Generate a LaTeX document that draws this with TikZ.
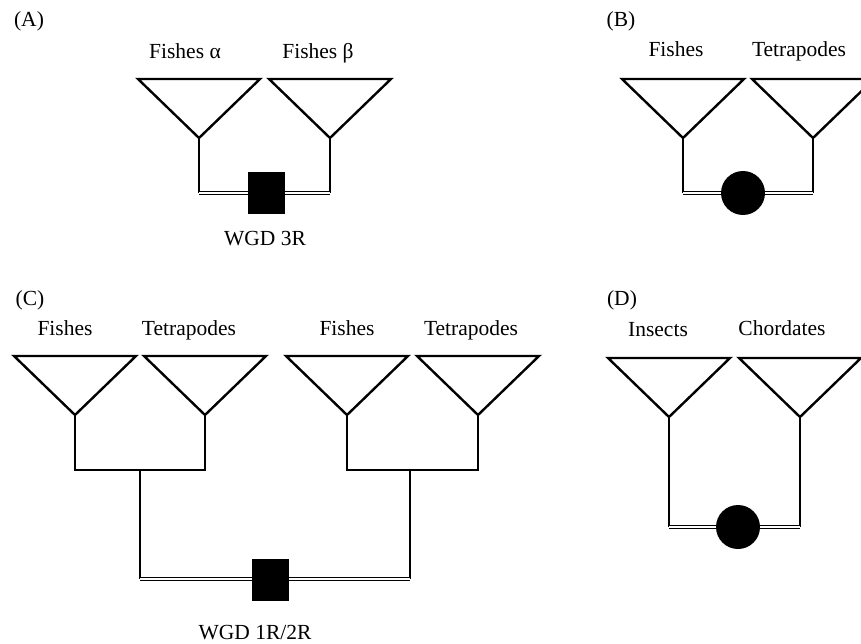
\documentclass[tikz,border=0pt]{standalone}
\usepackage{fontspec}
\setmainfont{Liberation Serif}
\begin{document}
\begin{tikzpicture}[x=1pt,y=-1pt,
  tri/.style={line width=2.4pt,line join=miter},
  stem/.style={line width=2.1pt},
  dbl/.style={line width=1.5pt,double,double distance=1.6pt},
  lbl/.style={anchor=base,inner sep=0pt,font=\fontsize{21.5}{25}\selectfont},
  wgdsq/.style={fill=black,draw=none,minimum width=37pt,minimum height=42pt,inner sep=0pt},
  wgdci/.style={fill=black,draw=none,circle,minimum size=44pt,inner sep=0pt},
  funnel/.pic={\draw[tri] (-61,0) -- (61,0) -- (0,59) -- cycle; \coordinate (-apex) at (0,59);}
]
\useasboundingbox (0,0) rectangle (861,644);

% ---------- Panel A ----------
\node[lbl] (labA) at (29,27) {(A)};
\pic (tA1) at (199,79) {funnel};
\pic (tA2) at (330,79) {funnel};
\node[lbl] (nA1) at (185,59) {Fishes α};
\node[lbl] (nA2) at (318,59) {Fishes β};
\coordinate (bA1) at (199,193);
\coordinate (bA2) at (330,193);
\draw[stem] (tA1-apex) -- (bA1);
\draw[stem] (tA2-apex) -- (bA2);
\draw[dbl] (bA1) -- (bA2);
\node[wgdsq] (sqA) at (266,193) {};
\node[lbl] (wA) at (265,245) {WGD 3R};

% ---------- Panel B ----------
\node[lbl] (labB) at (621,27) {(B)};
\pic (tB1) at (683,79) {funnel};
\pic (tB2) at (813,79) {funnel};
\node[lbl] (nB1) at (676,57) {Fishes};
\node[lbl] (nB2) at (799,57) {Tetrapodes};
\coordinate (bB1) at (683,193);
\coordinate (bB2) at (813,193);
\draw[stem] (tB1-apex) -- (bB1);
\draw[stem] (tB2-apex) -- (bB2);
\draw[dbl] (bB1) -- (bB2);
\node[wgdci] (ciB) at (743,193) {};

% ---------- Panel C ----------
\node[lbl] (labC) at (30,305) {(C)};
\pic (tC1) at (75,356) {funnel};
\pic (tC2) at (205,356) {funnel};
\pic (tC3) at (347,356) {funnel};
\pic (tC4) at (478,356) {funnel};
\node[lbl] (nC1) at (65,335) {Fishes};
\node[lbl] (nC2) at (189,335) {Tetrapodes};
\node[lbl] (nC3) at (347,335) {Fishes};
\node[lbl] (nC4) at (471,335) {Tetrapodes};
\coordinate (jC1) at (140,470);
\coordinate (jC2) at (410,470);
\draw[stem] (tC1-apex) |- (jC1) -| (tC2-apex);
\draw[stem] (tC3-apex) |- (jC2) -| (tC4-apex);
\coordinate (bC1) at (140,579);
\coordinate (bC2) at (410,579);
\draw[stem] (jC1) -- (bC1);
\draw[stem] (jC2) -- (bC2);
\draw[dbl] (bC1) -- (bC2);
\node[wgdsq] (sqC) at (270,580) {};
\node[lbl] (wC) at (255,639) {WGD 1R/2R};

% ---------- Panel D ----------
\node[lbl] (labD) at (622,305) {(D)};
\pic (tD1) at (669,358) {funnel};
\pic (tD2) at (800,358) {funnel};
\node[lbl] (nD1) at (658,336) {Insects};
\node[lbl] (nD2) at (782,335) {Chordates};
\coordinate (bD1) at (669,527);
\coordinate (bD2) at (800,527);
\draw[stem] (tD1-apex) -- (bD1);
\draw[stem] (tD2-apex) -- (bD2);
\draw[dbl] (bD1) -- (bD2);
\node[wgdci] (ciD) at (738,527) {};
\end{tikzpicture}
\end{document}
